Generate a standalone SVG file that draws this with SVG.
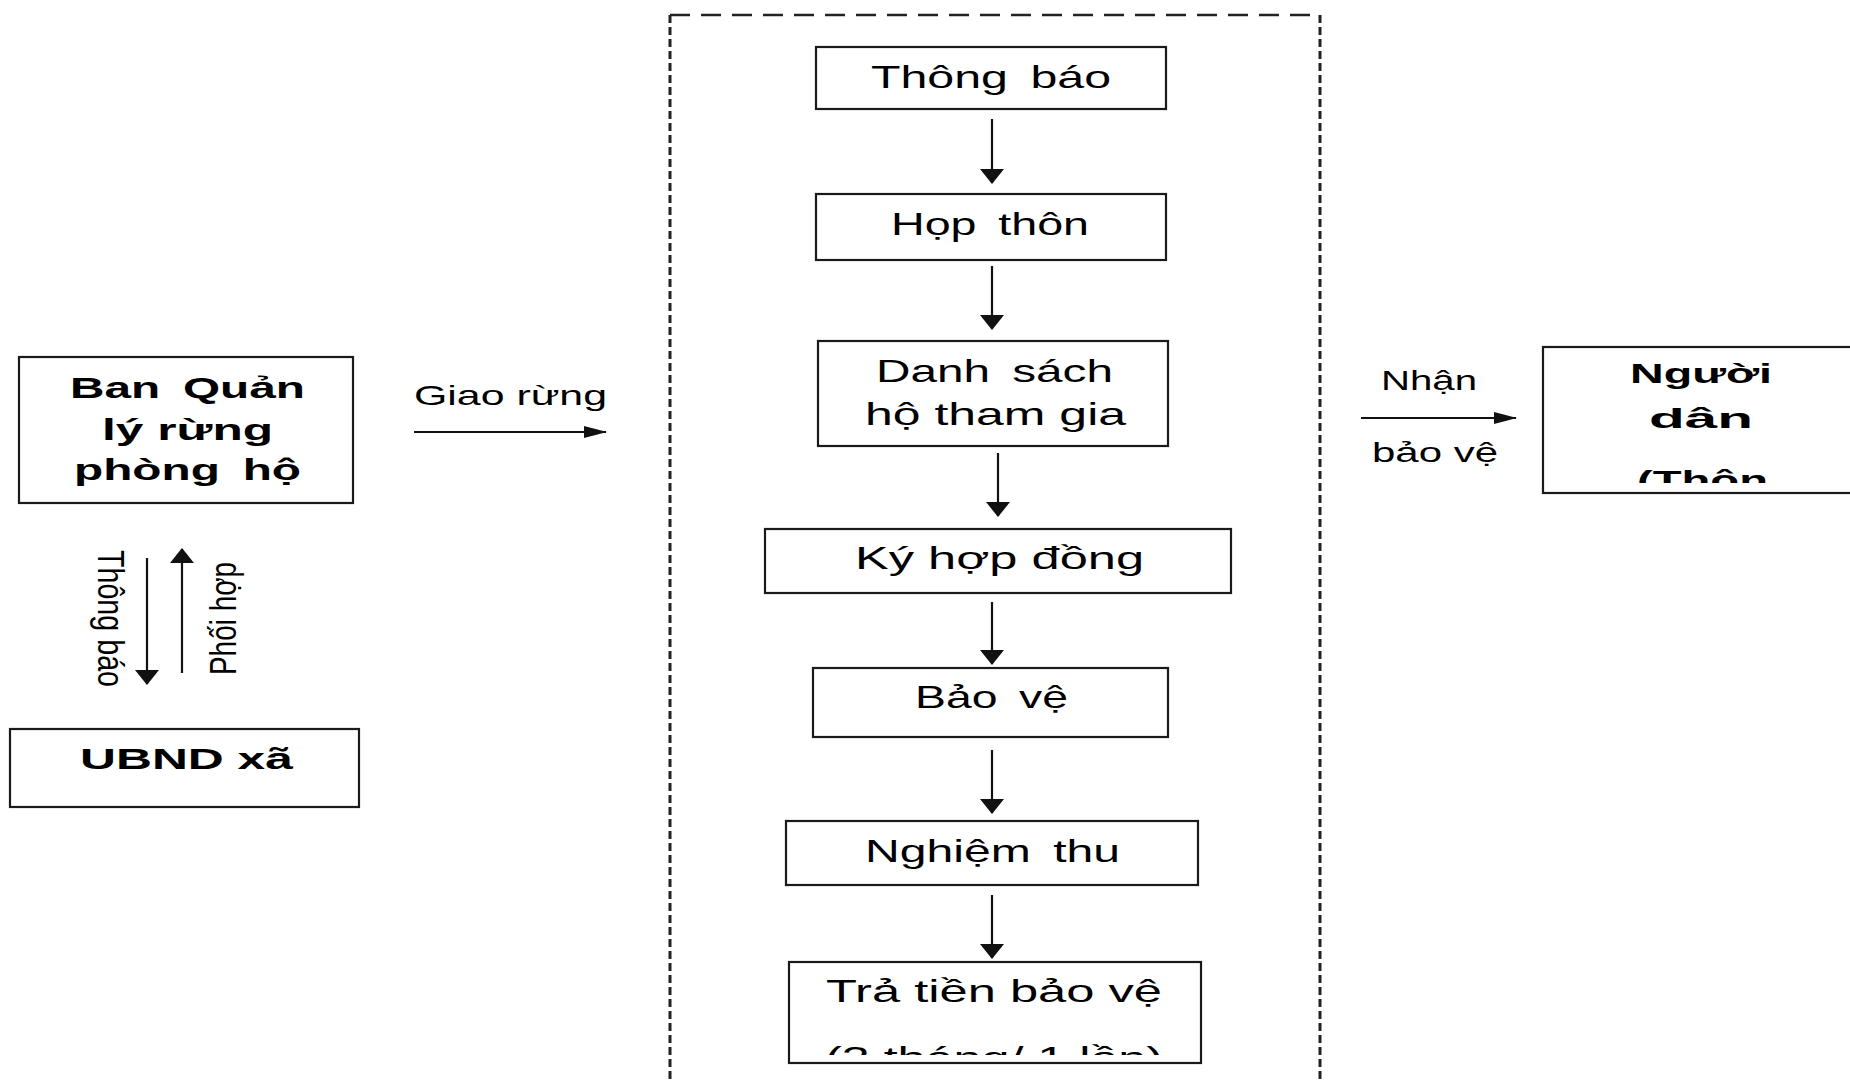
<svg xmlns="http://www.w3.org/2000/svg" width="1850" height="1081" viewBox="0 0 1850 1081">
<style>
  .box{fill:#fff;stroke:#1a1a1a;stroke-width:2.2}
  .t{font-family:"Liberation Sans",Arial,"DejaVu Sans",sans-serif;font-size:32px;fill:#000}
  .b{font-weight:bold;font-size:30px}
  .s{font-size:28px}
  .w{word-spacing:6px}
  .c{stroke:#111;stroke-width:2.2;fill:none}
  .dh{stroke:#222;stroke-width:2.5;stroke-dasharray:20 11;fill:none}
  .dv{stroke:#222;stroke-width:3;stroke-dasharray:8 4;fill:none}
</style>
<defs>
  <marker id="arrV" markerUnits="userSpaceOnUse" viewBox="0 0 15 24" refX="14" refY="12" markerWidth="15" markerHeight="24" orient="auto">
    <path d="M0,0 L15,12 L0,24 z" fill="#111"/>
  </marker>
  <marker id="arrH" markerUnits="userSpaceOnUse" viewBox="0 0 23 12" refX="22" refY="6" markerWidth="23" markerHeight="12" orient="auto">
    <path d="M0,0 L23,6 L0,12 z" fill="#111"/>
  </marker>
  <clipPath id="clipNguoi"><rect x="1543" y="347" width="307" height="136"/></clipPath>
  <clipPath id="clipTra"><rect x="789" y="962" width="412" height="93"/></clipPath>
</defs>
<rect x="0" y="0" width="1850" height="1081" fill="#fff"/>

<g id="container">
  <line class="dh" x1="670" y1="15" x2="1320" y2="15"/>
  <line class="dv" x1="670" y1="15" x2="670" y2="1081"/>
  <line class="dv" x1="1320" y1="15" x2="1320" y2="1081"/>
</g>

<g id="ban-quan-ly">
  <rect class="box" x="19" y="357" width="334" height="146"/>
  <text class="t b w" x="70" y="398" textLength="235" lengthAdjust="spacingAndGlyphs">Ban Quản</text>
  <text class="t b" x="102" y="440" textLength="171" lengthAdjust="spacingAndGlyphs">lý rừng</text>
  <text class="t b w" x="74" y="480" textLength="227" lengthAdjust="spacingAndGlyphs">phòng hộ</text>
</g>

<g id="ubnd-xa">
  <rect class="box" x="10" y="729" width="349" height="78"/>
  <text class="t b" x="80" y="769" textLength="213" lengthAdjust="spacingAndGlyphs">UBND xã</text>
</g>

<g id="nguoi-dan">
  <rect class="box" x="1543" y="347" width="320" height="146"/>
  <text class="t b s" x="1630" y="383" textLength="142" lengthAdjust="spacingAndGlyphs">Người</text>
  <text class="t b s" x="1649" y="428" textLength="104" lengthAdjust="spacingAndGlyphs">dân</text>
  <text class="t b s" x="1637" y="490" textLength="131" lengthAdjust="spacingAndGlyphs" clip-path="url(#clipNguoi)">(Thôn</text>
</g>

<g id="thong-bao">
  <rect class="box" x="816" y="47" width="350" height="62"/>
  <text class="t w" x="871" y="88" textLength="240" lengthAdjust="spacingAndGlyphs">Thông báo</text>
</g>
<g id="hop-thon">
  <rect class="box" x="816" y="194" width="350" height="66"/>
  <text class="t w" x="891" y="235" textLength="198" lengthAdjust="spacingAndGlyphs">Họp thôn</text>
</g>
<g id="danh-sach">
  <rect class="box" x="818" y="341" width="350" height="105"/>
  <text class="t w" x="876" y="382" textLength="237" lengthAdjust="spacingAndGlyphs">Danh sách</text>
  <text class="t" x="865" y="425" textLength="261" lengthAdjust="spacingAndGlyphs">hộ tham gia</text>
</g>
<g id="ky-hop-dong">
  <rect class="box" x="765" y="529" width="466" height="64"/>
  <text class="t" x="855" y="569" textLength="289" lengthAdjust="spacingAndGlyphs">Ký hợp đồng</text>
</g>
<g id="bao-ve">
  <rect class="box" x="813" y="668" width="355" height="69"/>
  <text class="t w" x="915" y="708" textLength="153" lengthAdjust="spacingAndGlyphs">Bảo vệ</text>
</g>
<g id="nghiem-thu">
  <rect class="box" x="786" y="821" width="412" height="64"/>
  <text class="t w" x="865" y="862" textLength="255" lengthAdjust="spacingAndGlyphs">Nghiệm thu</text>
</g>
<g id="tra-tien">
  <rect class="box" x="789" y="962" width="412" height="101"/>
  <text class="t" x="826" y="1002" textLength="336" lengthAdjust="spacingAndGlyphs">Trả tiền bảo vệ</text>
  <text class="t" x="825" y="1069" textLength="338" lengthAdjust="spacingAndGlyphs" clip-path="url(#clipTra)">(3 tháng/ 1 lần)</text>
</g>

<g id="connectors">
  <line class="c" x1="992" y1="119" x2="992" y2="183" marker-end="url(#arrV)"/>
  <line class="c" x1="992" y1="266" x2="992" y2="329" marker-end="url(#arrV)"/>
  <line class="c" x1="998" y1="453" x2="998" y2="516" marker-end="url(#arrV)"/>
  <line class="c" x1="992" y1="602" x2="992" y2="664" marker-end="url(#arrV)"/>
  <line class="c" x1="992" y1="750" x2="992" y2="813" marker-end="url(#arrV)"/>
  <line class="c" x1="992" y1="895" x2="992" y2="958" marker-end="url(#arrV)"/>
  <line class="c" x1="147" y1="558" x2="147" y2="684" marker-end="url(#arrV)"/>
  <line class="c" x1="182" y1="673" x2="182" y2="549" marker-end="url(#arrV)"/>
  <line class="c" x1="414" y1="432" x2="606" y2="432" marker-end="url(#arrH)"/>
  <line class="c" x1="1361" y1="418" x2="1516" y2="418" marker-end="url(#arrH)"/>
</g>

<g id="labels">
  <text class="t s" x="414" y="405" textLength="193" lengthAdjust="spacingAndGlyphs">Giao rừng</text>
  <text class="t s" x="1381" y="390" textLength="96" lengthAdjust="spacingAndGlyphs">Nhận</text>
  <text class="t s" x="1372" y="462" textLength="126" lengthAdjust="spacingAndGlyphs">bảo vệ</text>
  <text class="t s" transform="translate(98,550) scale(1.35,1) rotate(90)" x="0" y="0" textLength="137" lengthAdjust="spacingAndGlyphs">Thông báo</text>
  <text class="t s" transform="translate(236,675) scale(1.35,1) rotate(-90)" x="0" y="0" textLength="113" lengthAdjust="spacingAndGlyphs">Phối hợp</text>
</g>
</svg>
